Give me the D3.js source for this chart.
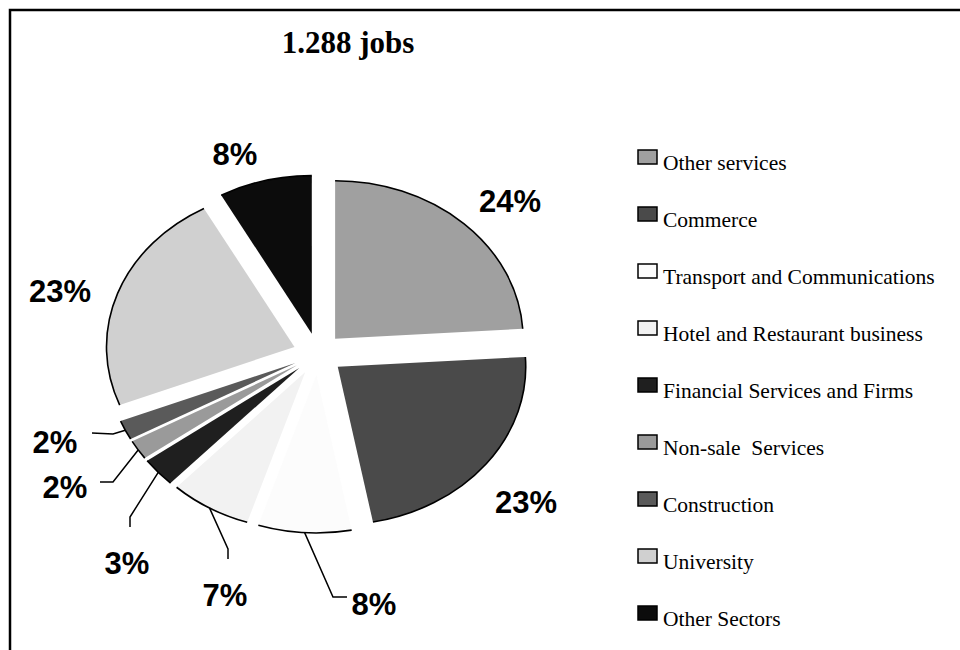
<!DOCTYPE html>
<html><head><meta charset="utf-8">
<script src="https://cdn.jsdelivr.net/npm/d3@7"></script>
<style>body{margin:0;background:#fff}svg{display:block}</style>
</head><body>
<svg id="chart" width="960" height="650"></svg>
<script>
// ---- data ----
const categories = ["Other services","Commerce","Transport and Communications","Hotel and Restaurant business","Financial Services and Firms","Non-sale  Services","Construction","University","Other Sectors"];
const values = [24,23,8,7,3,2,2,23,8];
const percentLabels = ["24%","23%","8%","7%","3%","2%","2%","23%","8%"];
const sliceColors = ["#a0a0a0","#4a4a4a","#fcfcfc","#f2f2f2","#1f1f1f","#9a9a9a","#5a5a5a","#d0d0d0","#0c0c0c"];
const titleText = "1.288 jobs";

// ---- layout (annotation placement, relative to pie centre) ----
const labelOffsets = [[192,-142],[208,159],[56,261],[-93,252],[-191,220],[-253,144],[-263,99],[-258,-52],[-83,-189]];
// leader: [endX, endY, elbowDX, elbowDY] relative to pie centre; null = no leader
const leaders = [null,null,[29,243,-14,0],[-90,205,0,-10],[-188,173,0,-10],[-218,128,13,0],[-226,79,21,1],null,null];

const W = 960, H = 650;
const cx = 318, cy = 354, ry = 158, sx = 188/158, explode = 21;

const svg = d3.select("#chart");
svg.append("rect").attr("x",10).attr("y",10).attr("width",W+20).attr("height",H+20)
  .attr("fill","none").attr("stroke","#000").attr("stroke-width",2.5);

svg.append("text").attr("x",348).attr("y",53).attr("text-anchor","middle")
  .attr("font-family","'Liberation Serif','Times New Roman',serif").attr("font-weight","bold")
  .attr("font-size",31).text(titleText);

const pie = d3.pie().sort(null).value(d=>d)(values);
const arcFill = d3.arc().innerRadius(0).outerRadius(ry);

const g = svg.append("g").attr("transform",`translate(${cx},${cy}) scale(${sx},1)`);
const slices = g.selectAll("g.slice").data(pie).join("g").attr("class","slice")
  .attr("transform",d=>{const m=(d.startAngle+d.endAngle)/2;return `translate(${explode*Math.sin(m)},${-explode*Math.cos(m)})`;});
slices.append("path").attr("d",arcFill).attr("fill",(d,i)=>sliceColors[i]).attr("stroke","none");
slices.append("path").attr("d",d=>{
    const a0=d.startAngle,a1=d.endAngle;
    const p=d3.path(); p.moveTo(ry*Math.sin(a0),-ry*Math.cos(a0));
    p.arc(0,0,ry,a0-Math.PI/2,a1-Math.PI/2,false); return p.toString();})
  .attr("fill","none").attr("stroke","#000").attr("stroke-width",1.6).attr("vector-effect","non-scaling-stroke");

// leaders
const lineGen = d3.line();
pie.forEach((d,i)=>{
  const L = leaders[i]; if(!L) return;
  const m=(d.startAngle+d.endAngle)/2;
  const ox = cx + sx*(explode+ry)*Math.sin(m), oy = cy - (explode+ry)*Math.cos(m);
  const ex = cx + L[0], ey = cy + L[1];
  const bx = ex + L[2], by = ey + L[3];
  svg.append("path").attr("d",lineGen([[ox,oy],[bx,by],[ex,ey]]))
    .attr("fill","none").attr("stroke","#000").attr("stroke-width",1.5);
});

// percent labels
svg.selectAll("text.pct").data(pie).join("text").attr("class","pct")
  .attr("x",(d,i)=>cx+labelOffsets[i][0]).attr("y",(d,i)=>cy+labelOffsets[i][1])
  .attr("text-anchor","middle").attr("font-family","'Liberation Sans',Arial,sans-serif")
  .attr("font-weight","bold").attr("font-size",31).attr("fill","#000")
  .text((d,i)=>percentLabels[i]);

// legend
const legY = d3.scaleBand().domain(categories).range([150,150+57*categories.length]);
const leg = svg.selectAll("g.leg").data(categories).join("g").attr("class","leg")
  .attr("transform",d=>`translate(638,${legY(d)})`);
leg.append("rect").attr("x",0).attr("y",0).attr("width",19).attr("height",14)
  .attr("fill",(d,i)=>sliceColors[i]).attr("stroke","#000").attr("stroke-width",1.5);
leg.append("text").attr("x",25).attr("y",20).style("white-space","pre")
  .attr("font-family","'Liberation Serif','Times New Roman',serif").attr("font-size",21.5)
  .attr("fill","#000").text(d=>d);
</script>
</body></html>
